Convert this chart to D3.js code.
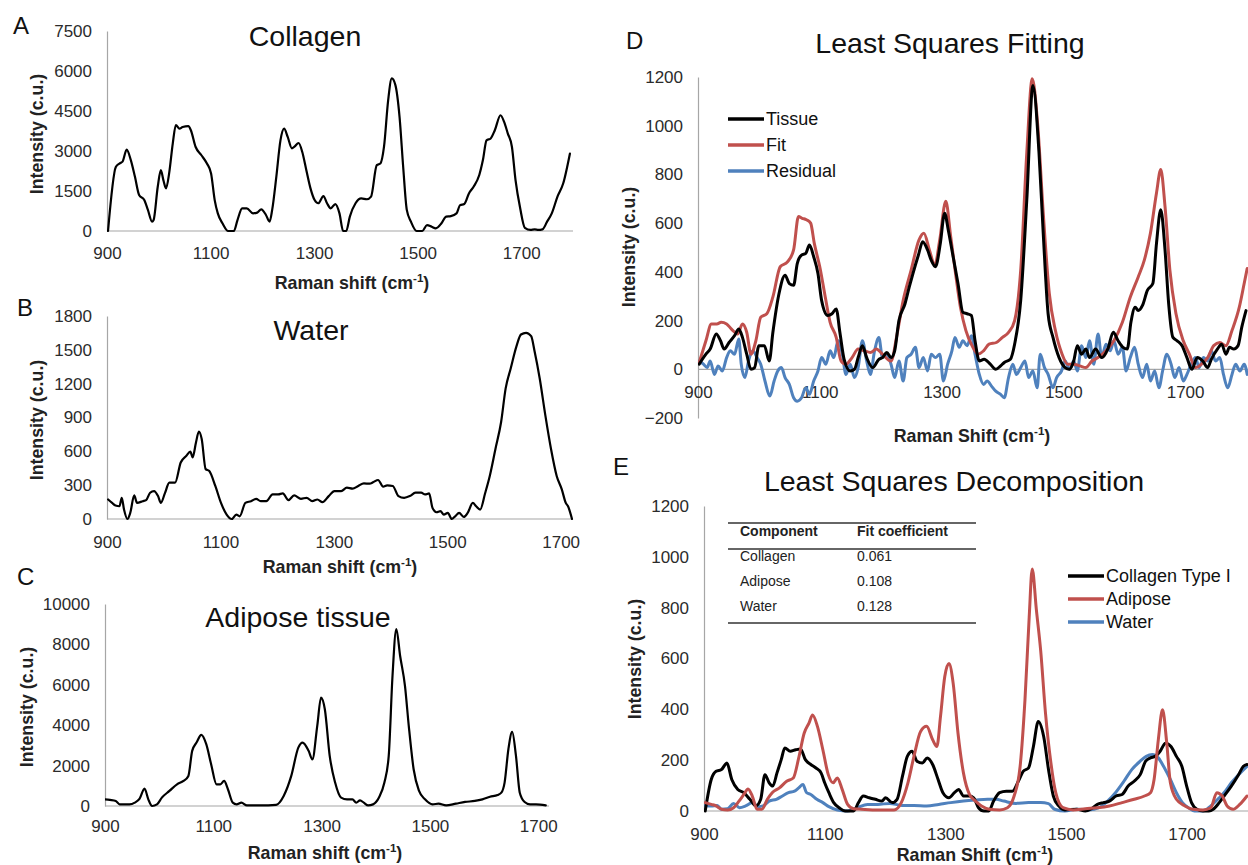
<!DOCTYPE html>
<html>
<head>
<meta charset="utf-8">
<script src="https://cdn.jsdelivr.net/npm/d3@7"></script>
<style>
  body { margin: 0; background: #fff; }
  svg { display: block; }
  text { font-family: "Liberation Sans", Arial, sans-serif; }
</style>
</head>
<body>
<svg id="fig" width="1248" height="865"></svg>
<script>
// ---------- Reference spectra (Raman shift in cm-1, intensity in c.u.) ----------
const collagenShift = [902,917,924,930,938,946,954,962,972,979,987,990,998,1004,1009,1014,1020,1027,1033,1040,1046,1057,1062,1071,1082,1093,1101,1108,1114,1123,1134,1145,1152,1161,1170,1182,1190,1198,1207,1214,1219,1227,1235,1242,1249,1257,1262,1270,1277,1285,1293,1301,1308,1318,1325,1332,1341,1349,1356,1362,1369,1380,1391,1402,1410,1421,1428,1435,1443,1450,1457,1465,1472,1479,1487,1498,1509,1518,1527,1535,1546,1555,1564,1575,1582,1590,1599,1608,1619,1626,1633,1641,1649,1660,1667,1674,1682,1689,1698,1707,1718,1726,1733,1741,1750,1759,1770,1781,1794];
const collagenIntensity = [0,2400,2530,2600,3050,2660,2030,1350,1160,790,350,410,1660,2280,1900,1600,2160,3280,3970,3840,3900,3930,3780,3160,2850,2530,2160,1160,660,290,0,0,410,850,850,660,690,810,600,350,790,2030,3400,3840,3530,3100,3160,3300,2970,2280,1600,1160,1040,1310,1040,850,1010,660,0,0,540,1040,1220,1190,1290,2470,2530,3160,4900,5720,5470,4280,2410,790,350,0,0,220,160,100,290,540,560,660,970,1010,1410,1660,2100,2660,3400,3470,3780,4340,4090,3660,3160,1910,850,120,40,60,40,60,350,660,1290,1780,2900];

const waterShift = [902,909,915,922,926,930,936,941,948,953,963,969,976,983,990,995,1002,1010,1020,1030,1040,1047,1051,1057,1062,1067,1074,1080,1091,1101,1111,1120,1128,1134,1144,1154,1163,1171,1181,1192,1202,1210,1220,1230,1242,1252,1262,1271,1280,1291,1301,1313,1323,1333,1343,1353,1363,1370,1378,1387,1394,1404,1414,1424,1434,1444,1454,1461,1468,1474,1481,1488,1494,1501,1508,1514,1521,1529,1536,1545,1551,1558,1567,1575,1585,1595,1603,1612,1622,1630,1639,1648,1654,1663,1673,1683,1693,1702,1709,1713,1720];
const waterIntensity = [173,143,119,113,188,84,0,54,209,143,158,167,233,248,203,143,227,322,322,501,561,597,546,681,776,710,442,427,293,143,39,0,39,24,143,158,179,158,158,218,218,227,167,209,179,188,158,173,149,203,248,248,278,269,293,316,313,328,346,287,299,293,203,188,203,233,233,218,227,99,60,69,39,54,0,24,54,18,54,143,113,84,233,382,621,860,1158,1337,1531,1636,1651,1621,1487,1248,919,621,382,263,143,113,0];

const adiposeShift = [900,909,920,927,945,955,964,973,980,987,996,1005,1019,1033,1045,1054,1061,1069,1078,1087,1096,1106,1113,1120,1127,1136,1143,1152,1162,1187,1216,1230,1244,1257,1265,1276,1283,1292,1299,1306,1315,1325,1336,1347,1357,1364,1371,1378,1386,1395,1406,1416,1424,1431,1438,1445,1454,1461,1470,1480,1491,1505,1516,1530,1548,1565,1583,1597,1611,1625,1632,1638,1645,1652,1659,1666,1675,1685,1696,1714];
const adiposeIntensity = [330,300,250,80,80,165,365,860,330,0,80,415,745,1075,1240,1490,2730,3140,3520,3060,2070,1075,1075,1240,830,165,80,165,30,30,60,500,1490,2890,3140,2730,2310,3970,5370,4790,2480,1160,415,330,330,165,280,165,30,80,415,1160,2480,6450,8760,7440,5950,3970,1820,745,330,80,115,30,115,200,250,330,460,545,660,1160,2810,3670,2480,660,200,80,80,30];

// ---------- Least squares fitting ----------
const tissueShift = [902,913,920,930,937,943,951,960,967,973,980,987,993,1000,1009,1017,1023,1033,1043,1050,1057,1063,1070,1077,1083,1090,1097,1103,1113,1120,1127,1133,1140,1150,1157,1163,1170,1177,1187,1197,1203,1210,1217,1223,1230,1240,1247,1253,1262,1269,1277,1283,1290,1298,1305,1311,1318,1327,1335,1342,1349,1355,1362,1370,1380,1389,1397,1403,1413,1420,1430,1440,1450,1460,1467,1475,1483,1493,1503,1510,1517,1523,1530,1537,1543,1553,1563,1573,1582,1590,1598,1605,1611,1618,1623,1630,1638,1647,1653,1660,1667,1673,1680,1687,1695,1703,1711,1720,1729,1737,1743,1753,1760,1767,1773,1780,1787,1793,1800];
const tissueIntensity = [21,62,83,145,117,83,110,138,165,131,62,0,7,97,97,34,152,310,386,352,345,434,469,476,510,462,393,283,221,228,248,152,41,-7,0,48,97,48,7,41,48,69,48,76,200,269,338,393,469,524,490,448,421,517,641,572,476,352,234,228,221,117,34,41,21,0,14,28,41,103,283,696,1165,890,558,228,131,48,7,0,34,97,62,83,48,83,48,83,152,117,90,83,193,255,241,262,324,352,517,655,490,269,131,117,97,48,0,48,34,7,41,83,103,62,90,83,97,172,241];

const fitShift = [902,913,922,931,938,947,955,965,973,980,987,995,1003,1013,1023,1035,1047,1057,1065,1071,1078,1085,1091,1100,1109,1117,1127,1135,1143,1153,1163,1173,1183,1193,1203,1217,1227,1237,1250,1263,1271,1280,1289,1297,1307,1315,1323,1331,1340,1350,1360,1369,1378,1390,1400,1410,1420,1430,1440,1449,1458,1467,1477,1487,1498,1507,1517,1527,1537,1547,1557,1570,1583,1597,1610,1623,1633,1643,1653,1660,1667,1675,1685,1697,1707,1717,1727,1737,1747,1757,1767,1777,1789,1797,1802];
const fitIntensity = [28,117,186,186,193,186,165,145,186,152,62,117,214,228,297,421,441,490,627,620,614,600,517,421,297,193,131,34,21,48,83,76,69,83,62,34,145,283,407,531,558,490,428,531,690,545,393,255,159,97,62,76,103,110,131,152,200,407,890,1193,1000,641,310,159,62,21,21,14,7,34,48,76,117,193,297,379,448,558,724,820,669,407,228,117,62,7,21,48,97,110,97,159,255,352,414];

const residualShift = [902,909,915,920,927,933,940,947,953,960,967,971,977,983,990,997,1003,1010,1018,1025,1031,1037,1043,1050,1057,1063,1070,1077,1083,1090,1097,1103,1110,1117,1123,1130,1137,1143,1150,1157,1163,1170,1177,1183,1190,1197,1203,1210,1217,1223,1230,1237,1243,1250,1257,1263,1270,1277,1283,1290,1297,1303,1310,1317,1322,1329,1335,1342,1349,1355,1362,1369,1375,1382,1389,1397,1403,1410,1417,1423,1430,1437,1443,1450,1457,1462,1469,1475,1483,1489,1497,1503,1510,1517,1523,1530,1537,1543,1550,1557,1563,1570,1577,1583,1590,1597,1603,1610,1617,1623,1630,1637,1643,1650,1657,1663,1670,1677,1683,1690,1697,1703,1710,1717,1723,1730,1737,1743,1750,1757,1763,1770,1777,1783,1790,1797,1802];
const residualIntensity = [34,21,7,34,-21,14,-7,48,76,62,124,21,-34,34,76,48,21,-48,-110,-48,-7,7,-34,-62,-117,-131,-117,-76,-103,-48,-7,48,21,76,48,117,62,-21,21,-34,7,117,34,-21,76,131,48,62,21,-34,34,-48,48,62,90,7,48,-7,62,48,62,-48,21,76,131,90,117,97,138,62,-21,-62,-48,-69,-90,-103,-117,-34,21,-21,7,34,-34,-7,-76,62,7,-21,-76,-34,-7,34,0,34,-7,97,48,117,21,145,48,103,76,117,62,90,-7,48,90,21,-34,21,-48,-7,-76,-7,62,21,-34,7,-48,-21,21,48,7,48,34,76,34,48,-21,-76,-21,21,-7,21,-21];

// ---------- Least squares decomposition (scaled components) ----------
const compCollagenShift = [902,912,920,929,938,946,956,966,976,986,994,1001,1008,1014,1021,1028,1034,1043,1052,1060,1068,1077,1085,1094,1100,1107,1115,1124,1134,1148,1156,1164,1174,1184,1195,1201,1212,1220,1229,1237,1245,1253,1262,1270,1279,1288,1296,1306,1315,1322,1330,1340,1347,1355,1364,1372,1380,1390,1401,1411,1421,1429,1438,1446,1454,1463,1471,1479,1488,1498,1518,1532,1542,1552,1562,1572,1583,1593,1603,1613,1623,1632,1640,1648,1656,1665,1674,1683,1692,1700,1708,1717,1727,1737,1744,1754,1764,1774,1786,1794,1800];
const compCollagenIntensity = [0,124,156,163,189,124,85,72,46,20,46,143,111,98,150,202,248,235,241,244,202,183,170,150,111,72,33,13,0,0,33,59,52,46,39,52,33,46,137,215,235,196,189,209,183,124,72,52,72,85,59,59,52,13,0,0,39,72,78,78,117,156,170,254,352,293,163,59,20,4,7,0,9,26,33,39,59,65,98,117,143,196,209,215,235,267,254,215,176,98,33,7,0,0,7,33,65,98,143,176,183];

const compAdiposeShift = [902,912,920,929,939,949,958,966,973,980,988,996,1005,1013,1025,1037,1048,1057,1066,1074,1080,1088,1097,1106,1114,1121,1129,1138,1148,1161,1188,1215,1227,1238,1248,1259,1269,1279,1286,1292,1299,1306,1313,1321,1330,1340,1350,1360,1373,1390,1403,1414,1424,1432,1439,1444,1451,1458,1466,1475,1483,1495,1512,1532,1552,1572,1593,1613,1630,1640,1646,1653,1660,1667,1673,1683,1697,1710,1727,1740,1750,1759,1767,1777,1788,1800];
const compAdiposeIntensity = [33,26,20,7,4,13,39,65,87,59,7,7,46,72,91,117,130,209,306,346,378,333,241,143,111,130,85,26,9,7,4,4,33,111,215,313,333,280,254,372,528,580,502,306,150,65,39,20,7,4,13,59,176,437,763,952,789,632,385,189,72,13,4,9,13,20,33,46,59,72,124,280,398,267,111,46,20,7,4,13,72,59,20,7,26,59];

const compWaterShift = [902,912,922,929,939,949,959,969,980,990,998,1008,1020,1030,1040,1050,1057,1064,1070,1077,1087,1097,1107,1121,1138,1154,1171,1188,1208,1228,1248,1269,1289,1309,1330,1350,1370,1384,1397,1417,1438,1458,1471,1481,1498,1518,1538,1555,1569,1582,1596,1609,1623,1633,1643,1653,1663,1673,1683,1693,1703,1713,1727,1740,1754,1764,1774,1786,1800];
const compWaterIntensity = [22,20,22,7,9,30,13,20,33,17,20,39,46,59,72,78,91,104,72,65,46,33,17,4,0,13,26,26,30,22,22,20,26,33,39,43,46,46,39,30,33,33,29,7,0,7,4,13,39,72,117,163,196,215,222,209,170,124,72,33,13,0,0,20,52,78,111,143,176];

// Fit coefficients listed in panel E
const tableHeader = ["Component", "Fit coefficient"];
const tableComponents = ["Collagen", "Adipose", "Water"];
const tableCoefficients = ["0.061", "0.108", "0.128"];

// Axis ticks
const shiftTicks = [900, 1100, 1300, 1500, 1700];
const ticksA = [0, 1500, 3000, 4500, 6000, 7500];
const ticksB = [0, 300, 600, 900, 1200, 1500, 1800];
const ticksC = [0, 2000, 4000, 6000, 8000, 10000];
const ticksD = [-200, 0, 200, 400, 600, 800, 1000, 1200];
const ticksE = [0, 200, 400, 600, 800, 1000, 1200];

// ---------- Drawing ----------
const BLACK = "#000000", RED = "#c0504d", BLUE = "#4f81bd";
const TITLE_SIZE = 28.5, AXIS_TITLE_SIZE = 17.8;
const svg = d3.select("#fig");
svg.append("rect").attr("width", 1248).attr("height", 865).attr("fill", "#fff");
const defs = svg.append("defs");
let clipCount = 0;

function panel(p) {
  const x = d3.scaleLinear().domain(p.xDomain).range(p.xRange);
  const y = d3.scaleLinear().domain(p.yDomain).range(p.yRange);
  const g = svg.append("g");

  // y axis
  const ya = g.append("g").attr("transform", `translate(${p.xRange[0]},0)`)
    .call(d3.axisLeft(y).tickValues(p.yTicks).tickSize(0).tickPadding(p.yPad || 15).tickFormat(d3.format("d")));
  ya.select(".domain").attr("stroke", "#a6a6a6").attr("stroke-width", 1.2);
  ya.selectAll("text").attr("font-size", 17).attr("fill", "#2b2b2b")
    .attr("font-family", "Liberation Sans, Arial, sans-serif");

  // x axis along zero intensity
  const xa = g.append("g").attr("transform", `translate(0,${y(0)})`)
    .call(d3.axisBottom(x).tickValues(shiftTicks).tickSize(0).tickPadding(p.xPad).tickFormat(d3.format("d")));
  xa.select(".domain").attr("stroke", "#a6a6a6").attr("stroke-width", 1.2)
    .attr("d", `M${p.xRange[0]},0H${p.xAxisEnd || p.xRange[1]}`);
  xa.selectAll("text").attr("font-size", 17).attr("fill", "#2b2b2b")
    .attr("font-family", "Liberation Sans, Arial, sans-serif");

  // keep the traces inside the plot area
  const id = "clip" + (clipCount++);
  defs.append("clipPath").attr("id", id).append("rect")
    .attr("x", p.xRange[0]).attr("y", 0).attr("width", 1248 - p.xRange[0]).attr("height", 865);

  const line = d3.line().x(d => x(d[0])).y(d => y(d[1])).curve(d3.curveMonotoneX);
  const lines = g.append("g").attr("clip-path", `url(#${id})`);
  p.series.forEach(s => {
    lines.append("path").datum(d3.zip(s.xs, s.ys))
      .attr("fill", "none").attr("stroke", s.color).attr("stroke-width", p.lw)
      .attr("stroke-linejoin", "round").attr("stroke-linecap", "round")
      .attr("d", line);
  });

  // panel title and letter
  g.append("text").attr("x", p.title[1]).attr("y", p.title[2]).attr("text-anchor", "middle")
    .attr("font-size", TITLE_SIZE).attr("fill", "#111").text(p.title[0]);
  g.append("text").attr("x", p.letter[1]).attr("y", p.letter[2])
    .attr("font-family", "Lato, 'Open Sans', sans-serif").attr("font-size", 24).attr("fill", "#111").text(p.letter[0]);

  // axis titles
  const xt = g.append("text").attr("x", p.xTitle[1]).attr("y", p.xTitle[2]).attr("text-anchor", "middle")
    .attr("font-size", AXIS_TITLE_SIZE).attr("font-weight", "bold").attr("fill", "#222");
  xt.append("tspan").text(p.xTitle[0] + " (cm");
  xt.append("tspan").attr("font-size", 11.5).attr("dy", -7).text("-1");
  xt.append("tspan").attr("dy", 7).text(")");

  g.append("text").attr("transform", `translate(${p.yTitle[0]},${p.yTitle[1]}) rotate(-90)`)
    .attr("text-anchor", "middle").attr("dy", "0.35em")
    .attr("font-size", AXIS_TITLE_SIZE).attr("font-weight", "bold").attr("fill", "#222").text("Intensity (c.u.)");

  return { g, x, y };
}

// A: Collagen
panel({
  xDomain: [900, 1800], xRange: [107, 573], yDomain: [0, 7500], yRange: [231, 31],
  yTicks: ticksA, xPad: 16, lw: 2.2,
  series: [{ xs: collagenShift, ys: collagenIntensity, color: BLACK }],
  title: ["Collagen", 305, 46], letter: ["A", 13, 34],
  xTitle: ["Raman shift", 352, 289], yTitle: [37, 134]
});

// B: Water
panel({
  xDomain: [900, 1720], xRange: [107, 572], yDomain: [0, 1800], yRange: [519, 316],
  yTicks: ticksB, xPad: 17, lw: 2.2,
  series: [{ xs: waterShift, ys: waterIntensity, color: BLACK }],
  title: ["Water", 311, 340], letter: ["B", 17, 316],
  xTitle: ["Raman shift", 340, 573], yTitle: [37, 420]
});

// C: Adipose tissue
panel({
  xDomain: [900, 1720], xRange: [105, 549], yDomain: [0, 10000], yRange: [806, 604],
  yTicks: ticksC, xPad: 14, lw: 2.2,
  series: [{ xs: adiposeShift, ys: adiposeIntensity, color: BLACK }],
  title: ["Adipose tissue", 298, 627], letter: ["C", 17, 585],
  xTitle: ["Raman shift", 325, 859], yTitle: [27, 707]
});

// D: Least squares fitting
panel({
  xDomain: [900, 1800], xRange: [698, 1246], xAxisEnd: 1248, yDomain: [-200, 1200], yRange: [418, 77],
  yTicks: ticksD, xPad: 17, lw: 3,
  series: [
    { xs: residualShift, ys: residualIntensity, color: BLUE },
    { xs: fitShift, ys: fitIntensity, color: RED },
    { xs: tissueShift, ys: tissueIntensity, color: BLACK }
  ],
  title: ["Least Squares Fitting", 950, 53], letter: ["D", 626, 49],
  xTitle: ["Raman Shift", 972, 442], yTitle: [629, 247]
});

// E: Least squares decomposition
panel({
  xDomain: [900, 1800], xRange: [704, 1247], xAxisEnd: 1248, yDomain: [0, 1200], yRange: [811, 506],
  yTicks: ticksE, xPad: 17, lw: 3,
  series: [
    { xs: compWaterShift, ys: compWaterIntensity, color: BLUE },
    { xs: compCollagenShift, ys: compCollagenIntensity, color: BLACK },
    { xs: compAdiposeShift, ys: compAdiposeIntensity, color: RED }
  ],
  title: ["Least Squares Decomposition", 954, 491], letter: ["E", 613, 475],
  xTitle: ["Raman Shift", 975, 861], yTitle: [635, 659]
});

// Legends
function legend(items, x0, y0, dy, fs, len) {
  const lg = svg.append("g");
  items.forEach((it, i) => {
    const yy = y0 + i * dy;
    lg.append("line").attr("x1", x0).attr("x2", x0 + len).attr("y1", yy).attr("y2", yy)
      .attr("stroke", it[1]).attr("stroke-width", 3.5);
    lg.append("text").attr("x", x0 + len + 2).attr("y", yy).attr("dy", "0.35em")
      .attr("font-size", fs).attr("fill", "#111").text(it[0]);
  });
}
legend([["Tissue", BLACK], ["Fit", RED], ["Residual", BLUE]], 728, 119, 26, 18, 36);
legend([["Collagen Type I", BLACK], ["Adipose", RED], ["Water", BLUE]], 1068, 576, 23, 18, 36);

// Fit coefficient table
const tb = svg.append("g").attr("font-family", "Lato, 'Open Sans', sans-serif").attr("fill", "#222");
[523, 549, 623].forEach(yy => tb.append("line").attr("x1", 728).attr("x2", 976)
  .attr("y1", yy).attr("y2", yy).attr("stroke", "#333").attr("stroke-width", 1.6));
tb.append("text").attr("x", 740).attr("y", 536).attr("font-size", 14).attr("font-weight", "bold").text(tableHeader[0]);
tb.append("text").attr("x", 857).attr("y", 536).attr("font-size", 14).attr("font-weight", "bold").text(tableHeader[1]);
tableComponents.forEach((c, i) => {
  tb.append("text").attr("x", 740).attr("y", 561 + i * 25).attr("font-size", 14).text(c);
  tb.append("text").attr("x", 857).attr("y", 561 + i * 25).attr("font-size", 14).text(tableCoefficients[i]);
});
</script>
</body>
</html>
